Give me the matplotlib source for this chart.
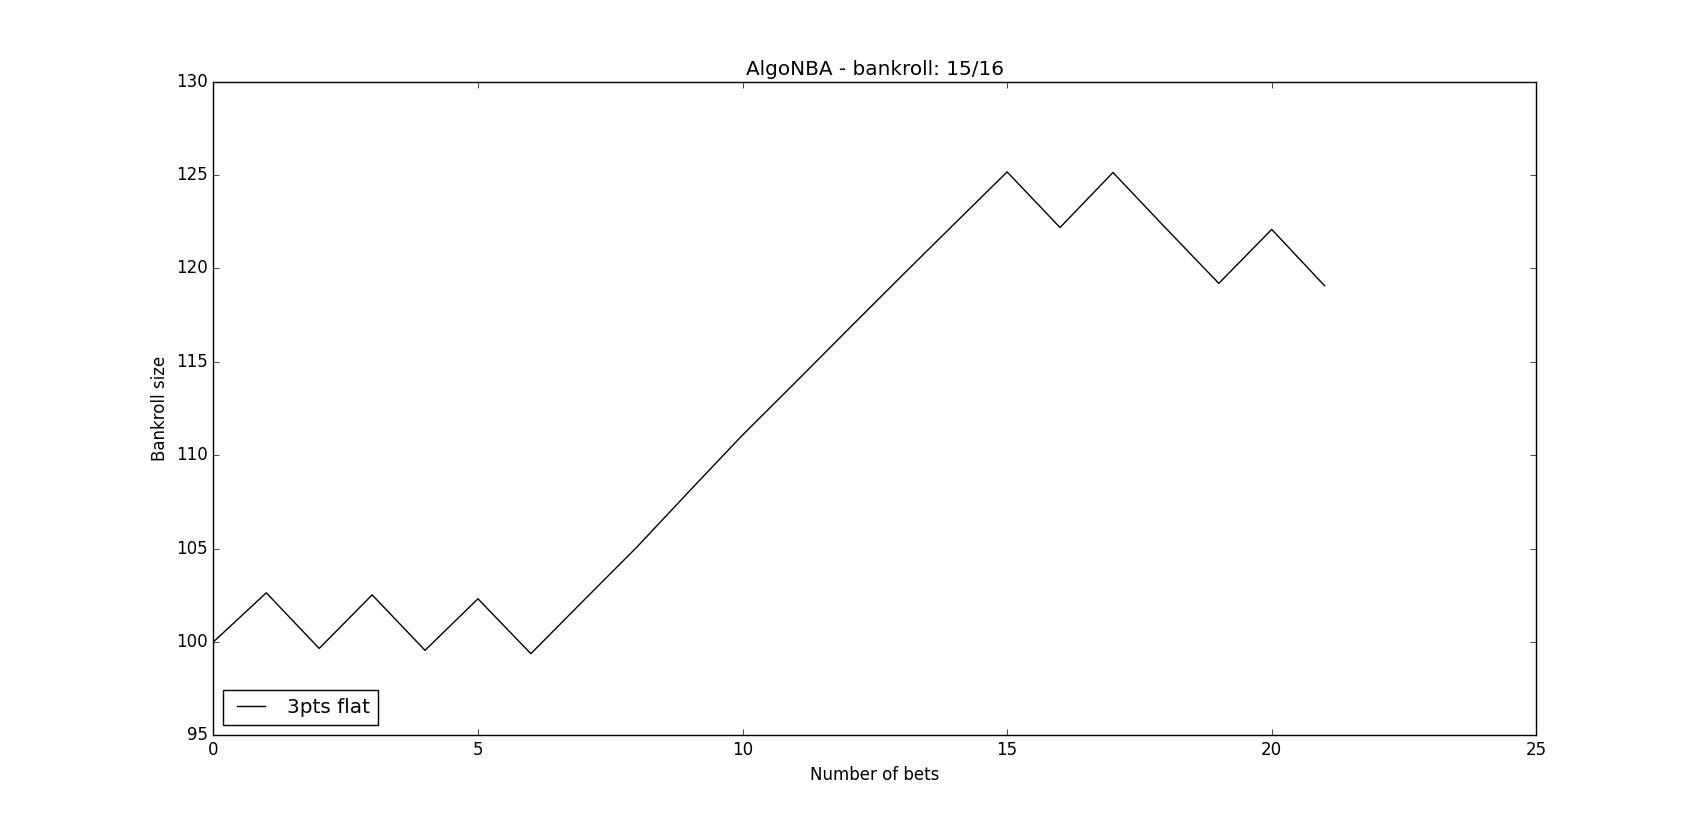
import matplotlib
matplotlib.use("Agg")
import matplotlib.pyplot as plt

plt.style.use("classic")

# bankroll after each bet
bets = list(range(22))
bankroll = [100.0, 102.63, 99.65, 102.52, 99.55, 102.31, 99.37, 102.23,
            105.07, 108.09, 111.08, 113.9, 116.75, 119.58, 122.38, 125.17,
            122.19, 125.14, 122.15, 119.2, 122.09, 119.07]

fig = plt.figure(figsize=(17.07, 8.17), dpi=100, facecolor="white")
ax = fig.add_subplot(111)
ax.plot(bets, bankroll, color="black", linewidth=1, label="3pts flat")
ax.set_xlim(0, 25)
ax.set_ylim(95, 130)
ax.set_title("AlgoNBA - bankroll: 15/16")
ax.set_xlabel("Number of bets")
ax.set_ylabel("Bankroll size")
ax.legend(loc="lower left")

fig.savefig("out.png", dpi=100, facecolor="white")
